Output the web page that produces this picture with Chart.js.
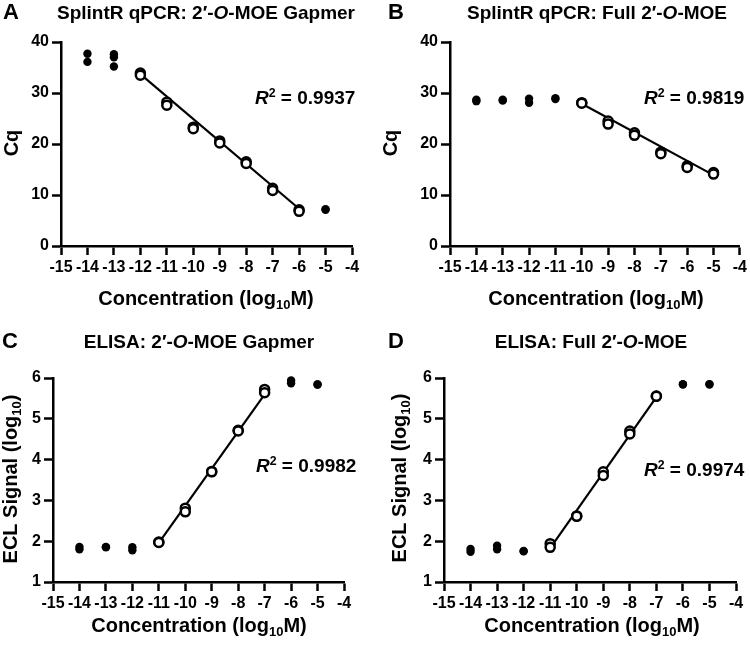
<!DOCTYPE html>
<html>
<head>
<meta charset="utf-8">
<script src="https://cdn.jsdelivr.net/npm/chart.js@4"></script>
<style>
  body { margin: 0; background: #fff; }
  #wrap { position: relative; width: 750px; height: 647px; }
  canvas { position: absolute; }
</style>
</head>
<body>
<div id="wrap">
  <canvas id="chartA" width="375" height="320" style="left:0;top:0"></canvas>
  <canvas id="chartB" width="375" height="320" style="left:375px;top:0"></canvas>
  <canvas id="chartC" width="375" height="327" style="left:0;top:320px"></canvas>
  <canvas id="chartD" width="375" height="327" style="left:375px;top:320px"></canvas>
</div>
<script>
// Panel A - SplintR qPCR, gapmer
const filledXA = [-14, -14, -13, -13, -13, -5, -5];
const filledYA = [37.7, 36.1, 37.6, 37.0, 35.2, 7.2, 7.1];
const openXA = [-12, -12, -11, -11, -10, -10, -9, -9, -8, -8, -7, -7, -6, -6];
const openYA = [33.9, 33.5, 28.2, 27.6, 23.3, 23.0, 20.6, 20.2, 16.5, 16.2, 11.3, 10.9, 7.1, 6.8];
const fitXA = [-12, -6];
const fitYA = [33.7, 7.3];

// Panel B - SplintR qPCR, full MOE
const filledXB = [-14, -14, -13, -13, -12, -12, -11, -11];
const filledYB = [28.7, 28.4, 28.7, 28.5, 28.9, 28.1, 29.0, 28.8];
const openXB = [-10, -10, -9, -9, -8, -8, -7, -7, -6, -6, -5, -5];
const openYB = [28.1, 28.0, 24.5, 23.9, 22.2, 21.7, 18.4, 18.1, 15.7, 15.4, 14.4, 14.1];
const fitXB = [-10, -5];
const fitYB = [27.9, 13.9];

// Panel C - ELISA, gapmer
const filledXC = [-14, -14, -13, -13, -12, -12, -6, -6, -5, -5];
const filledYC = [1.86, 1.80, 1.86, 1.85, 1.85, 1.78, 5.94, 5.87, 5.84, 5.84];
const openXC = [-11, -11, -10, -10, -9, -9, -8, -8, -7, -7];
const openYC = [1.98, 1.97, 2.81, 2.72, 3.71, 3.70, 4.72, 4.70, 5.72, 5.64];
const fitXC = [-11, -7];
const fitYC = [1.96, 5.6];

// Panel D - ELISA, full MOE
const filledXD = [-14, -14, -13, -13, -12, -12, -6, -6, -5, -5];
const filledYD = [1.81, 1.74, 1.89, 1.80, 1.76, 1.75, 5.85, 5.84, 5.85, 5.84];
const openXD = [-11, -11, -10, -10, -9, -9, -8, -8, -7, -7];
const openYD = [1.94, 1.85, 2.62, 2.61, 3.70, 3.61, 4.70, 4.63, 5.56, 5.55];
const fitXD = [-11, -7];
const fitYD = [1.83, 5.53];

const r2Labels = ['0.9937', '0.9819', '0.9982', '0.9974'];

const FONT = '"Liberation Sans", Arial, Helvetica, sans-serif';

function pts(xs, ys) {
  return xs.map((x, i) => ({ x: x, y: ys[i] }));
}

// draws text with italic / superscript / subscript pieces
function richText(items) {
  return {
    id: 'richText',
    afterDraw(chart) {
      const ctx = chart.ctx;
      items.forEach(it => {
        ctx.save();
        ctx.translate(it.x, it.y);
        if (it.rot) ctx.rotate(it.rot);
        const parts = it.segs.map(s => {
          const size = (s.sup || s.sub) ? it.size * 0.65 : it.size;
          const font = (s.it ? 'italic ' : '') + 'bold ' + size + 'px ' + FONT;
          ctx.font = font;
          return {
            t: s.t, font: font, w: ctx.measureText(s.t).width,
            dy: s.sup ? -it.size * 0.36 : (s.sub ? it.size * 0.2 : 0)
          };
        });
        const total = parts.reduce((a, p) => a + p.w, 0);
        let x = it.align === 'center' ? -total / 2 : 0;
        ctx.fillStyle = '#000';
        ctx.textAlign = 'left';
        ctx.textBaseline = 'alphabetic';
        parts.forEach(p => {
          ctx.font = p.font;
          ctx.fillText(p.t, x, p.dy);
          x += p.w;
        });
        ctx.restore();
      });
    }
  };
}

function axisStyle() {
  return {
    border: { display: true, color: '#000', width: 2.5 },
    grid: { display: true, drawOnChartArea: false, drawTicks: true, tickLength: 9, tickWidth: 2.5, color: '#000' },
  };
}

function makePanel(id, p) {
  const canvas = document.getElementById(id);
  const W = canvas.width, H = canvas.height;
  new Chart(canvas, {
    type: 'scatter',
    data: {
      datasets: [{
        data: pts(p.openX, p.openY),
        pointRadius: 4.5,
        pointBackgroundColor: '#fff',
        pointBorderColor: '#000',
        pointBorderWidth: 2.5,
        order: 1,
        clip: false
      }, {
        data: pts(p.filledX, p.filledY),
        pointRadius: 4.2,
        pointBackgroundColor: '#000',
        pointBorderWidth: 0,
        order: 2,
        clip: false
      }, {
        data: pts(p.fitX, p.fitY),
        showLine: true,
        borderColor: '#000',
        borderWidth: 2.2,
        pointRadius: 0,
        order: 3,
        clip: false
      }]
    },
    options: {
      responsive: false,
      animation: false,
      layout: { padding: { left: 0, right: W - p.area.r, top: p.area.t, bottom: 0 } },
      plugins: { legend: { display: false }, tooltip: { enabled: false } },
      scales: {
        x: Object.assign(axisStyle(), {
          min: -15, max: -4,
          ticks: { stepSize: 1, autoSkip: false, maxRotation: 0, minRotation: 0, padding: 3, color: '#000',
                   font: { family: FONT, size: 16, weight: 'bold' } },
          afterFit: s => { s.height = H - p.area.b; }
        }),
        y: Object.assign(axisStyle(), {
          min: p.yMin, max: p.yMax,
          ticks: { stepSize: p.yStep, padding: 3, color: '#000',
                   font: { family: FONT, size: 16, weight: 'bold' } },
          afterFit: s => { s.width = p.area.l; }
        })
      }
    },
    plugins: [richText(p.texts)]
  });
}

function titleSegs(prefix, suffix) {
  return [{ t: prefix }, { t: 'O', it: true }, { t: suffix }];
}
function r2Segs(v) {
  return [{ t: 'R', it: true }, { t: '2', sup: true }, { t: ' = ' + v }];
}
const concSegs = [{ t: 'Concentration (log' }, { t: '10', sub: true }, { t: 'M)' }];
const eclSegs = [{ t: 'ECL Signal (log' }, { t: '10', sub: true }, { t: ')' }];
const UP = -Math.PI / 2;

makePanel('chartA', {
  area: { l: 61, r: 352, t: 42, b: 246 }, yMin: 0, yMax: 40, yStep: 10,
  filledX: filledXA, filledY: filledYA, openX: openXA, openY: openYA, fitX: fitXA, fitY: fitYA,
  texts: [
    { x: 3, y: 19, size: 22, segs: [{ t: 'A' }] },
    { x: 206, y: 19, size: 19, align: 'center', segs: titleSegs('SplintR qPCR: 2\u2032-', '-MOE Gapmer') },
    { x: 255, y: 104, size: 19, segs: r2Segs(r2Labels[0]) },
    { x: 206, y: 305, size: 20, align: 'center', segs: concSegs },
    { x: 18, y: 143, size: 20, align: 'center', rot: UP, segs: [{ t: 'Cq' }] }
  ]
});

makePanel('chartB', {
  area: { l: 75, r: 368, t: 42, b: 246 }, yMin: 0, yMax: 40, yStep: 10,
  filledX: filledXB, filledY: filledYB, openX: openXB, openY: openYB, fitX: fitXB, fitY: fitYB,
  texts: [
    { x: 13, y: 19, size: 22, segs: [{ t: 'B' }] },
    { x: 222, y: 19, size: 19, align: 'center', segs: titleSegs('SplintR qPCR: Full 2\u2032-', '-MOE') },
    { x: 269, y: 104, size: 19, segs: r2Segs(r2Labels[1]) },
    { x: 221, y: 305, size: 20, align: 'center', segs: concSegs },
    { x: 22, y: 143, size: 20, align: 'center', rot: UP, segs: [{ t: 'Cq' }] }
  ]
});

makePanel('chartC', {
  area: { l: 53, r: 344, t: 58, b: 262 }, yMin: 1, yMax: 6, yStep: 1,
  filledX: filledXC, filledY: filledYC, openX: openXC, openY: openYC, fitX: fitXC, fitY: fitYC,
  texts: [
    { x: 2, y: 28, size: 22, segs: [{ t: 'C' }] },
    { x: 199, y: 28, size: 19, align: 'center', segs: titleSegs('ELISA: 2\u2032-', '-MOE Gapmer') },
    { x: 256, y: 152, size: 19, segs: r2Segs(r2Labels[2]) },
    { x: 199, y: 312, size: 20, align: 'center', segs: concSegs },
    { x: 17, y: 159, size: 20, align: 'center', rot: UP, segs: eclSegs }
  ]
});

makePanel('chartD', {
  area: { l: 69, r: 361, t: 58, b: 262 }, yMin: 1, yMax: 6, yStep: 1,
  filledX: filledXD, filledY: filledYD, openX: openXD, openY: openYD, fitX: fitXD, fitY: fitYD,
  texts: [
    { x: 13, y: 28, size: 22, segs: [{ t: 'D' }] },
    { x: 216, y: 28, size: 19, align: 'center', segs: titleSegs('ELISA: Full 2\u2032-', '-MOE') },
    { x: 269, y: 156, size: 19, segs: r2Segs(r2Labels[3]) },
    { x: 217, y: 312, size: 20, align: 'center', segs: concSegs },
    { x: 31, y: 158, size: 20, align: 'center', rot: UP, segs: eclSegs }
  ]
});
</script>
</body>
</html>
